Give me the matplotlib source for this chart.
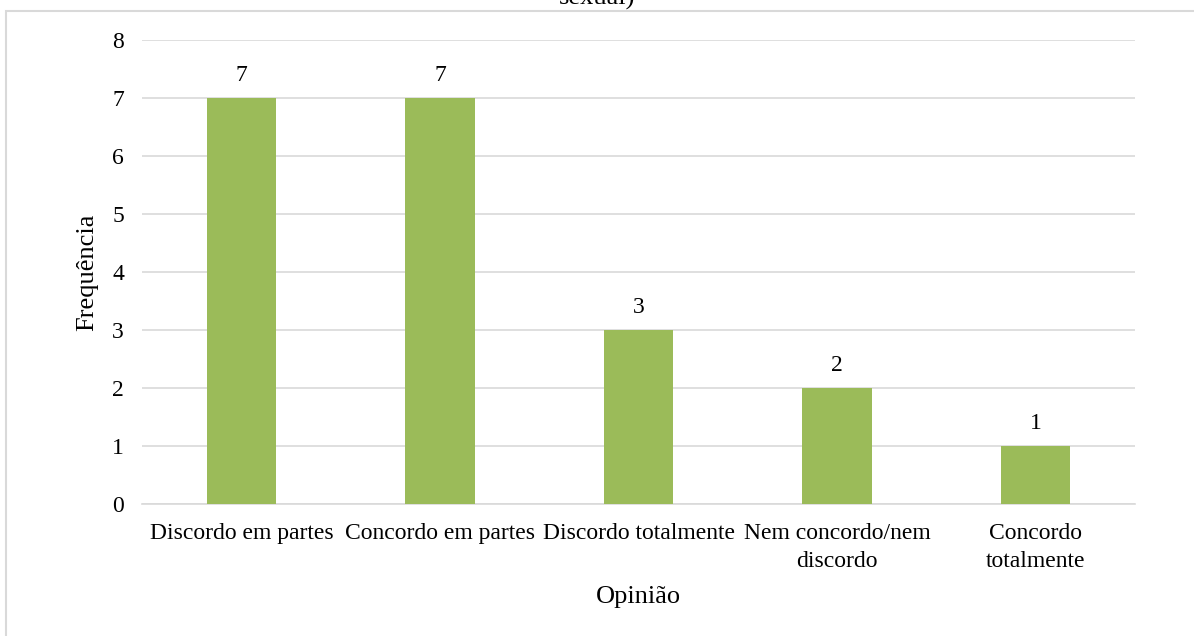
import matplotlib
matplotlib.use('Agg')
import matplotlib.pyplot as plt
import matplotlib.patches as patches

categories = ['Discordo em partes', 'Concordo em partes', 'Discordo totalmente',
              'Nem concordo/nem\ndiscordo', 'Concordo\ntotalmente']
counts = [7, 7, 3, 2, 1]
y_ticks = [0, 1, 2, 3, 4, 5, 6, 7, 8]

plt.rcParams['font.family'] = ['Liberation Serif', 'DejaVu Serif']

fig = plt.figure(figsize=(11.94, 6.36), dpi=100)
ax = fig.add_axes([0.119, 0.2075, 0.8316, 0.7296])

# outer chart frame (cut off at the bottom/right like the screenshot)
frame = patches.Rectangle((0.005, -0.05), 1.2, 1.033, transform=fig.transFigure,
                          fill=False, edgecolor='#D9D9D9', linewidth=1.5, clip_on=False)
fig.patches.append(frame)

# truncated title from the original
fig.text(0.5, 0.993, 'sexual)', ha='center', va='baseline', fontsize=19)

x = list(range(len(categories)))
bars = ax.bar(x, counts, width=0.35, color='#9BBB59', zorder=3)
for b, v in zip(bars, counts):
    ax.annotate(str(v), (b.get_x() + b.get_width() / 2, v), xytext=(0, 9),
                textcoords='offset points', ha='center', va='bottom', fontsize=17)

ax.set_xlim(-0.5, len(categories) - 0.5)
ax.set_ylim(0, 8)
ax.set_yticks(y_ticks)
ax.set_xticks(x)
ax.set_xticklabels(categories, fontsize=17, linespacing=1.4)
ax.tick_params(axis='both', length=0, labelsize=17)
ax.tick_params(axis='y', pad=13)
ax.tick_params(axis='x', pad=14)
ax.grid(axis='y', color='#D9D9D9', linewidth=1.2, zorder=0)
for s in ['top', 'right', 'left']:
    ax.spines[s].set_visible(False)
ax.spines['bottom'].set_color('#D9D9D9')
ax.spines['bottom'].set_linewidth(1.2)

ax.set_ylabel('Frequência', fontsize=19, labelpad=10)
ax.set_xlabel('Opinião', fontsize=19, labelpad=10)

fig.savefig('out.png', dpi=100)
